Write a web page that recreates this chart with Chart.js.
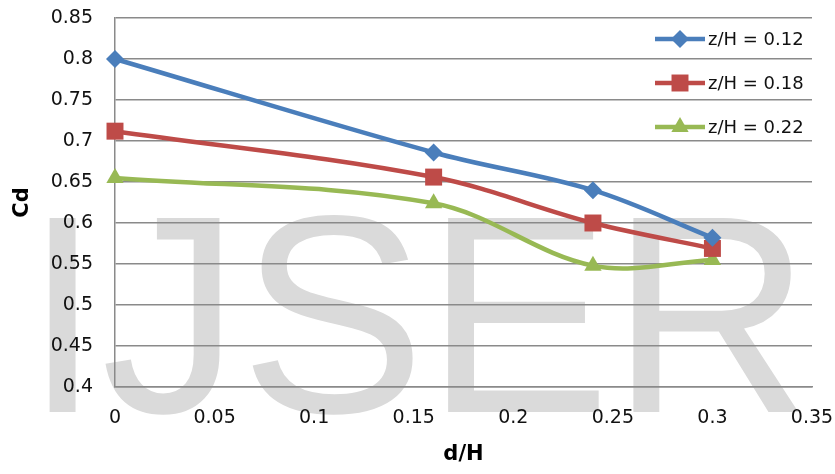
<!DOCTYPE html>
<html>
<head>
<meta charset="utf-8">
<script src="https://cdn.jsdelivr.net/npm/chart.js@4/dist/chart.umd.min.js"></script>
<style>
  html, body { margin: 0; padding: 0; background: #fff; }
  #wrap { width: 835px; height: 474px; position: relative; }
</style>
</head>
<body>
<div id="wrap"><canvas id="cdChart"></canvas></div>
<script>
// --- Data ---
const dH = [0, 0.16, 0.24, 0.3];
const cdZ012 = [0.800, 0.686, 0.640, 0.582];
const cdZ018 = [0.712, 0.656, 0.600, 0.569];
const cdZ022 = [0.655, 0.624, 0.548, 0.555];
const seriesNames = ['z/H = 0.12', 'z/H = 0.18', 'z/H = 0.22'];
const xTicks = [0, 0.05, 0.1, 0.15, 0.2, 0.25, 0.3, 0.35];
const yTicks = [0.4, 0.45, 0.5, 0.55, 0.6, 0.65, 0.7, 0.75, 0.8, 0.85];

const tickFont = { family: 'DejaVu Sans', size: 19 };
const titleFont = { family: 'DejaVu Sans', size: 21, weight: 'bold' };

function toPoints(ys) {
    return dH.map((x, i) => ({ x: x, y: ys[i] }));
}

function makeSeries(label, ys, color, style, radius) {
    return {
        label: label,
        data: toPoints(ys),
        borderColor: color,
        backgroundColor: color,
        borderWidth: 4.5,
        tension: 0.35,
        clip: false,
        pointStyle: style,
        pointRadius: radius,
        pointBorderWidth: 0,
        pointBackgroundColor: color
    };
}

// big grey mark behind everything
const watermark = {
    id: 'watermark',
    beforeDraw(chart) {
        const ctx = chart.ctx;
        ctx.save();
        ctx.fillStyle = '#dadada';
        ctx.font = '282px "Liberation Sans"';
        ctx.textAlign = 'left';
        ctx.textBaseline = 'alphabetic';
        ctx.translate(24, 412);
        ctx.scale(0.985, 1);
        ctx.fillText('IJSER', 0, 0);
        ctx.restore();
    }
};

// legend: line sample with marker, stacked in the top right corner
const lineLegend = {
    id: 'lineLegend',
    afterDatasetsDraw(chart) {
        const ctx = chart.ctx;
        const x0 = 655, x1 = 705, rowY = [39, 83, 127];
        ctx.save();
        chart.data.datasets.forEach((ds, i) => {
            const y = rowY[i];
            ctx.strokeStyle = ds.borderColor;
            ctx.lineWidth = ds.borderWidth;
            ctx.beginPath();
            ctx.moveTo(x0, y);
            ctx.lineTo(x1, y);
            ctx.stroke();
            ctx.fillStyle = ds.pointBackgroundColor;
            Chart.helpers.drawPoint(ctx, {
                pointStyle: ds.pointStyle,
                radius: ds.pointRadius,
                rotation: 0,
                borderWidth: 0
            }, (x0 + x1) / 2, y);
            ctx.fillStyle = '#111';
            ctx.font = '18px "DejaVu Sans"';
            ctx.textAlign = 'left';
            ctx.textBaseline = 'middle';
            ctx.fillText(ds.label, x1 + 3, y + 1);
        });
        ctx.restore();
    }
};

const ctx = document.getElementById('cdChart').getContext('2d');
const myChart = new Chart(ctx, {
    type: 'line',
    data: {
        datasets: [
            makeSeries(seriesNames[0], cdZ012, '#4a7ebb', 'rectRot', 9),
            makeSeries(seriesNames[1], cdZ018, '#be4b48', 'rect', 12),
            makeSeries(seriesNames[2], cdZ022, '#98b954', 'triangle', 10)
        ]
    },
    options: {
        responsive: true,
        maintainAspectRatio: false,
        animation: false,
        layout: { padding: { left: 0, right: 23, top: 18, bottom: 0 } },
        plugins: {
            legend: { display: false },
            tooltip: { enabled: false }
        },
        scales: {
            x: {
                type: 'linear',
                min: 0,
                max: 0.35,
                afterBuildTicks: (scale) => { scale.ticks = xTicks.map(v => ({ value: v })); },
                afterFit: (scale) => { scale.height = 87; },
                ticks: {
                    font: tickFont,
                    color: '#111',
                    padding: 0,
                    maxRotation: 0,
                    callback: (v) => String(+v.toFixed(2))
                },
                // invisible tick marks only push the labels away from the axis
                grid: { color: 'transparent', drawOnChartArea: false, tickLength: 20 },
                border: { display: true, color: '#8a8a8a', width: 1.5 },
                title: {
                    display: true,
                    text: 'd/H',
                    font: titleFont,
                    color: '#000',
                    padding: { top: 0, bottom: 7 }
                }
            },
            y: {
                min: 0.4,
                max: 0.85,
                afterBuildTicks: (scale) => { scale.ticks = yTicks.map(v => ({ value: v })); },
                afterFit: (scale) => { scale.width = 115; },
                ticks: {
                    font: tickFont,
                    color: '#111',
                    padding: 0,
                    callback: (v) => String(+v.toFixed(2))
                },
                grid: { color: '#8a8a8a', lineWidth: 1.5, tickLength: 22, tickColor: 'transparent' },
                border: { display: true, color: '#8a8a8a', width: 1.5 },
                title: {
                    display: true,
                    text: 'Cd',
                    font: titleFont,
                    color: '#000',
                    padding: { top: 10, bottom: 0 }
                }
            }
        }
    },
    plugins: [watermark, lineLegend]
});
</script>
</body>
</html>
